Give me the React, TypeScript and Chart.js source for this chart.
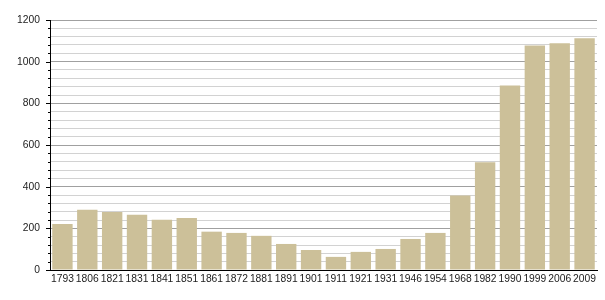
import React, { useEffect, useRef } from "react";
import { Chart, registerables } from "chart.js";

Chart.register(...registerables);

const years = [
  "1793", "1806", "1821", "1831", "1841", "1851", "1861", "1872", "1881", "1891", "1901",
  "1911", "1921", "1931", "1946", "1954", "1968", "1982", "1990", "1999", "2006", "2009",
];
const population = [
  221, 289, 279, 265, 241, 250, 184, 178, 164, 125, 96,
  63, 87, 101, 149, 178, 358, 517, 886, 1078, 1088, 1112,
];
const yMax = 1200;
const yStep = 40;
const yLabelStep = 200;

const tickMarks = {
  id: "tickMarks",
  afterDraw(chart: any) {
    const y = chart.scales.y;
    const ctx = chart.ctx;
    const left = chart.chartArea.left;
    ctx.save();
    ctx.strokeStyle = "#000";
    ctx.lineWidth = 1;
    y.ticks.forEach((t: any) => {
      const py = Math.round(y.getPixelForValue(t.value)) + 0.5;
      const len = t.value % yLabelStep === 0 ? 4 : 2;
      ctx.beginPath();
      ctx.moveTo(left - len, py);
      ctx.lineTo(left, py);
      ctx.stroke();
    });
    ctx.restore();
  },
};

export default function App() {
  const ref = useRef<HTMLCanvasElement>(null);
  useEffect(() => {
    document.body.style.margin = "0";
    const chart = new Chart(ref.current!, {
      type: "bar",
      data: {
        labels: years,
        datasets: [
          {
            data: population,
            backgroundColor: "rgb(204,192,153)",
            barPercentage: 0.82,
            categoryPercentage: 1,
          },
        ],
      },
      plugins: [tickMarks],
      options: {
        animation: false,
        responsive: false,
        layout: { padding: { top: 20, right: 8, left: 0, bottom: 0 } },
        plugins: { legend: { display: false }, tooltip: { enabled: false } },
        scales: {
          x: {
            grid: { display: false, drawTicks: false },
            border: { color: "#000", width: 1 },
            ticks: {
              color: "#222",
              font: { family: "Liberation Sans", size: 10.3 },
              padding: 3,
              maxRotation: 0,
              autoSkip: false,
            },
            afterFit: (s: any) => {
              s.height = 30;
            },
          },
          y: {
            min: 0,
            max: yMax,
            grid: {
              drawTicks: false,
              color: (c: any) =>
                c.tick && c.tick.value % yLabelStep === 0 ? "#a0a0a0" : "#d2d2d2",
            },
            border: { color: "#000", width: 1 },
            ticks: {
              stepSize: yStep,
              color: "#222",
              font: { family: "Liberation Sans", size: 10.3 },
              padding: 10,
              autoSkip: false,
              callback: (v: any) => (Number(v) % yLabelStep === 0 ? String(v) : ""),
            },
            afterFit: (s: any) => {
              s.width = 50;
            },
          },
        },
      },
    });
    return () => chart.destroy();
  }, []);
  return <canvas ref={ref} width={605} height={300} style={{ display: "block" }} />;
}
